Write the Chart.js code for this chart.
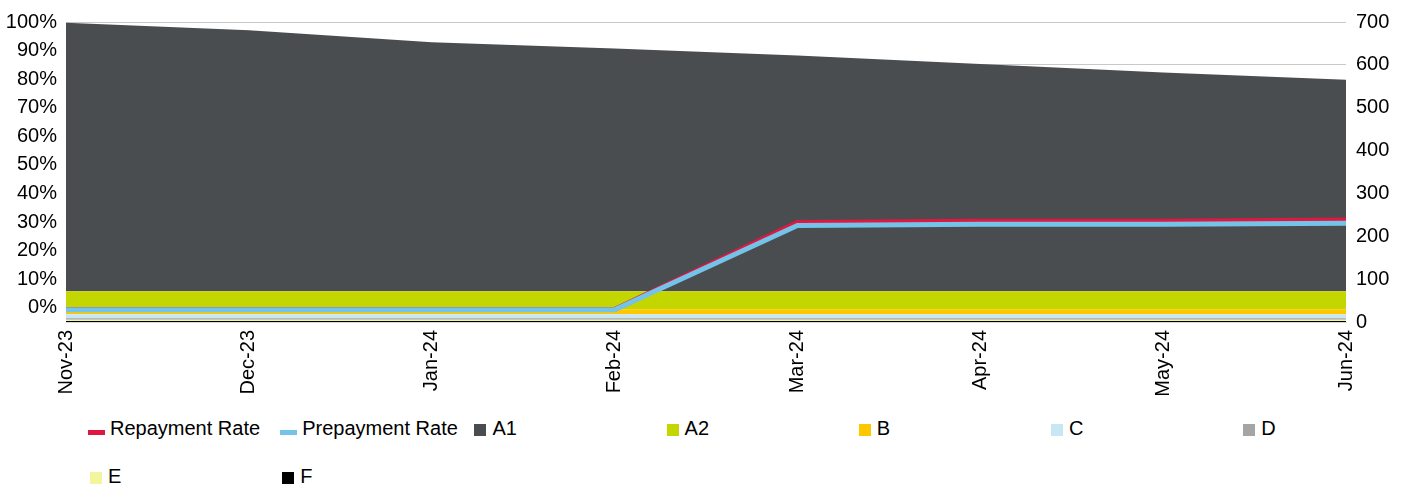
<!DOCTYPE html>
<html>
<head>
<meta charset="utf-8">
<script src="https://cdn.jsdelivr.net/npm/chart.js@4/dist/chart.umd.min.js"></script>
<style>
  body { margin: 0; background: #fff; font-family: "Liberation Sans", Arial, sans-serif; }
  #wrap { position: relative; width: 1401px; height: 488px; }
  #chart { position: absolute; left: 0; top: 0; }
  .lg-mark { position: absolute; }
  .lg-text { position: absolute; font-size: 20px; line-height: 20px; color: #000; white-space: nowrap; }
</style>
</head>
<body>
<div id="wrap">
  <canvas id="chart" width="1401" height="400"></canvas>
  <div id="legend"></div>
</div>
<script>
const months = ["Nov-23", "Dec-23", "Jan-24", "Feb-24", "Mar-24", "Apr-24", "May-24", "Jun-24"];

// left axis (rates)
const repaymentRate = [-0.006, -0.006, -0.006, -0.006, 0.298, 0.303, 0.303, 0.307];
const prepaymentRate = [-0.007, -0.007, -0.007, -0.007, 0.288, 0.292, 0.292, 0.296];
const leftTicks = [0, 0.1, 0.2, 0.3, 0.4, 0.5, 0.6, 0.7, 0.8, 0.9, 1.0];

// right axis (stacked balances)
const a1 = [626, 609, 581, 566, 550, 530, 510, 493];
const a2 = [42, 42, 42, 42, 42, 42, 42, 42];
const b = [12, 12, 12, 12, 12, 12, 12, 12];
const c = [9, 9, 9, 9, 9, 9, 9, 9];
const d = [3.5, 3.5, 3.5, 3.5, 3.5, 3.5, 3.5, 3.5];
const e = [3, 3, 3, 3, 3, 3, 3, 3];
const f = [2.5, 2.5, 2.5, 2.5, 2.5, 2.5, 2.5, 2.5];

const legendOrder = ["Repayment Rate", "Prepayment Rate", "A1", "A2", "B", "C", "D", "E", "F"];

const font = { family: "'Liberation Sans', Arial, sans-serif", size: 20 };

function lineSet(label, data, color, order) {
  return {
    type: "line", label, data, yAxisID: "y", order,
    borderColor: color, backgroundColor: color,
    borderWidth: 5, pointRadius: 0, fill: false, tension: 0,
  };
}

function areaSet(label, data, color, fill) {
  return {
    type: "line", label, data, yAxisID: "y1", order: 5,
    borderColor: color, backgroundColor: color,
    borderWidth: 0, pointRadius: 0, fill, tension: 0,
  };
}

// bottom of the stack first
const datasets = [
  lineSet("Prepayment Rate", prepaymentRate, "#74c4ea", 0),
  lineSet("Repayment Rate", repaymentRate, "#e0173f", 1),
  areaSet("F", f, "#000000", "origin"),
  areaSet("E", e, "#f3f59c", "-1"),
  areaSet("D", d, "#a5a5a5", "-1"),
  areaSet("C", c, "#c8e7f4", "-1"),
  areaSet("B", b, "#ffc700", "-1"),
  areaSet("A2", a2, "#c4d600", "-1"),
  areaSet("A1", a1, "#4a4d50", "-1"),
];

function renderLegend() {
  const box = document.getElementById("legend");
  box.innerHTML = "";
  legendOrder.forEach((label, i) => {
    const ds = datasets.find((x) => x.label === label);
    const row = Math.floor(i / 7);
    const cx = 96 + 192.2 * (i % 7);
    const cy = row === 0 ? 428 : 476;
    const isLine = ds.yAxisID === "y";

    const mark = document.createElement("div");
    mark.className = "lg-mark";
    mark.style.background = ds.borderColor;
    if (isLine) {
      mark.style.left = `${cx - 8}px`;
      mark.style.top = `${cy + 2}px`;
      mark.style.width = "17px";
      mark.style.height = "5px";
    } else {
      mark.style.left = `${cx - 6}px`;
      mark.style.top = `${cy - 4}px`;
      mark.style.width = "12px";
      mark.style.height = "12px";
    }
    box.appendChild(mark);

    const txt = document.createElement("div");
    txt.className = "lg-text";
    txt.textContent = label;
    txt.style.left = `${cx + (isLine ? 14 : 12)}px`;
    txt.style.top = `${cy - 10}px`;
    box.appendChild(txt);
  });
}

new Chart(document.getElementById("chart"), {
  data: { labels: months, datasets },
  options: {
    responsive: false,
    animation: false,
    devicePixelRatio: 1,
    layout: { padding: { top: 20, left: 0, right: 0, bottom: 0 } },
    plugins: { legend: { display: false }, tooltip: { enabled: false } },
    scales: {
      x: {
        offset: false,
        grid: { display: false, drawTicks: false },
        border: { display: true, color: "#d9d9d9" },
        ticks: { color: "#000", font, padding: 8, minRotation: 90, maxRotation: 90, autoSkip: false },
        afterFit: (s) => { s.height = 78; },
      },
      y: {
        position: "left",
        min: -0.05,
        max: 1.0,
        grid: { display: false, drawTicks: false },
        border: { display: false },
        afterBuildTicks: (s) => { s.ticks = leftTicks.map((v) => ({ value: v })); },
        ticks: { color: "#000", font, padding: 9, callback: (v) => `${Math.round(v * 100)}%` },
        afterFit: (s) => { s.width = 66; },
      },
      y1: {
        position: "right",
        stacked: true,
        min: 0,
        max: 700,
        grid: { color: "#c8c8c8", drawTicks: false },
        border: { display: false },
        ticks: { color: "#000", font, padding: 10, stepSize: 100 },
        afterFit: (s) => { s.width = 55; },
      },
    },
  },
});

renderLegend();
</script>
</body>
</html>
